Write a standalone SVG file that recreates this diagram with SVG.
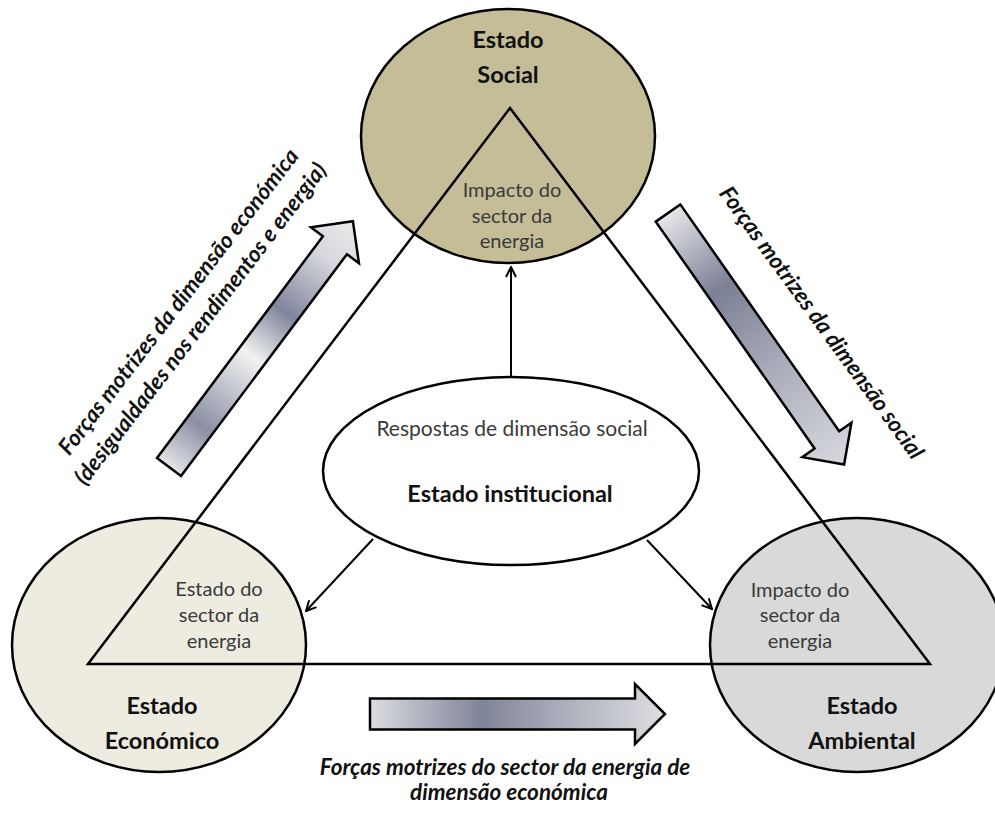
<svg xmlns="http://www.w3.org/2000/svg" width="995" height="818" viewBox="0 0 995 818">
  <style>
    .node { stroke: #000; stroke-width: 2.5; }
    .bold { font-family: Lato, "Liberation Sans", sans-serif; font-weight: bold; font-size: 23.5px; fill: #111; text-anchor: middle; }
    .reg { font-family: Lato, "Liberation Sans", sans-serif; font-size: 20px; fill: #3a3a3a; text-anchor: middle; }
    .cap { font-family: Lato, "Liberation Sans", sans-serif; font-weight: bold; font-style: italic; font-size: 22.5px; fill: #111; text-anchor: middle; }
    .tri { fill: none; stroke: #000; stroke-width: 2.5; stroke-linejoin: miter; }
    .conn { fill: none; stroke: #000; stroke-width: 2; }
    .block { stroke: #000; stroke-width: 2.5; stroke-linejoin: miter; }
  </style>
  <defs>
    <marker id="open" viewBox="0 0 12 12" refX="11" refY="6" markerWidth="12" markerHeight="12" markerUnits="userSpaceOnUse" orient="auto">
      <path d="M1,1 L11,6 L1,11" fill="none" stroke="#000" stroke-width="2"/>
    </marker>
    <linearGradient id="gLeft" x1="0" y1="0" x2="1" y2="0">
      <stop offset="0" stop-color="#e4e4e8"/>
      <stop offset="0.17" stop-color="#8a8fa3"/>
      <stop offset="0.45" stop-color="#f2f2f2"/>
      <stop offset="0.63" stop-color="#7f859b"/>
      <stop offset="0.85" stop-color="#d6d7dc"/>
      <stop offset="1" stop-color="#eaeaec"/>
    </linearGradient>
    <linearGradient id="gRight" x1="0" y1="0" x2="1" y2="0">
      <stop offset="0" stop-color="#e6e6e9"/>
      <stop offset="0.3" stop-color="#7b8096"/>
      <stop offset="0.65" stop-color="#aeb1bd"/>
      <stop offset="1" stop-color="#d8d9de"/>
    </linearGradient>
    <linearGradient id="gBottom" x1="0" y1="0" x2="1" y2="0">
      <stop offset="0" stop-color="#dcdde1"/>
      <stop offset="0.38" stop-color="#7f8499"/>
      <stop offset="0.7" stop-color="#b3b5c0"/>
      <stop offset="1" stop-color="#dddee1"/>
    </linearGradient>
  </defs>

  <g id="estado-social">
    <ellipse class="node" cx="508" cy="136" rx="147" ry="127" fill="#c4bd97"/>
    <text class="bold" x="508" y="48">Estado</text>
    <text class="bold" x="508" y="83">Social</text>
    <text class="reg" x="512" y="197">Impacto do</text>
    <text class="reg" x="512" y="223">sector da</text>
    <text class="reg" x="512" y="248">energia</text>
  </g>

  <g id="estado-economico">
    <ellipse class="node" cx="159" cy="645" rx="147" ry="127" fill="#eeece1"/>
    <text class="reg" x="219" y="596">Estado do</text>
    <text class="reg" x="219" y="622">sector da</text>
    <text class="reg" x="219" y="648">energia</text>
    <text class="bold" x="162" y="714">Estado</text>
    <text class="bold" x="162" y="749">Económico</text>
  </g>

  <g id="estado-ambiental">
    <ellipse class="node" cx="857" cy="645" rx="147" ry="127" fill="#d9d9d9"/>
    <text class="reg" x="800" y="597">Impacto do</text>
    <text class="reg" x="800" y="622">sector da</text>
    <text class="reg" x="800" y="648">energia</text>
    <text class="bold" x="862" y="714">Estado</text>
    <text class="bold" x="862" y="749">Ambiental</text>
  </g>

  <g id="triangulo">
    <polygon class="tri" points="510,108 930,664 88,664"/>
  </g>

  <g id="estado-institucional">
    <ellipse class="node" cx="511" cy="471" rx="188" ry="94" fill="#ffffff"/>
    <text class="reg" x="512" y="436" style="font-size:21px">Respostas de dimensão social</text>
    <text class="bold" x="510" y="502">Estado institucional</text>
  </g>

  <g id="connectors">
    <line class="conn" x1="511" y1="377" x2="511" y2="267" marker-end="url(#open)"/>
    <line class="conn" x1="373" y1="539" x2="306" y2="611" marker-end="url(#open)"/>
    <line class="conn" x1="647" y1="540" x2="712" y2="609" marker-end="url(#open)"/>
  </g>

  <g id="forcas-economica">
    <polygon class="block" fill="url(#gLeft)" transform="translate(169,467) rotate(-53.2)" points="0,-15 277,-15 277,-30 307,0 277,30 277,15 0,15"/>
    <text class="cap" transform="translate(179,302) rotate(-52.5)" x="0" y="7">Forças motrizes da dimensão económica</text>
    <text class="cap" transform="translate(201,324) rotate(-52.5)" x="0" y="7">(desigualdades nos rendimentos e energia)</text>
  </g>

  <g id="forcas-social">
    <polygon class="block" fill="url(#gRight)" transform="translate(668,213) rotate(55)" points="0,-15 277,-15 277,-30 307,0 277,30 277,15 0,15"/>
    <text class="cap" transform="translate(821,323) rotate(54)" x="0" y="7">Forças motrizes da dimensão social</text>
  </g>

  <g id="forcas-sector">
    <polygon class="block" fill="url(#gBottom)" transform="translate(370,714)" points="0,-15.5 265,-15.5 265,-30 295,0 265,30 265,15.5 0,15.5"/>
    <text class="cap" x="505" y="775">Forças motrizes do sector da energia de</text>
    <text class="cap" x="509" y="800">dimensão económica</text>
  </g>
</svg>
